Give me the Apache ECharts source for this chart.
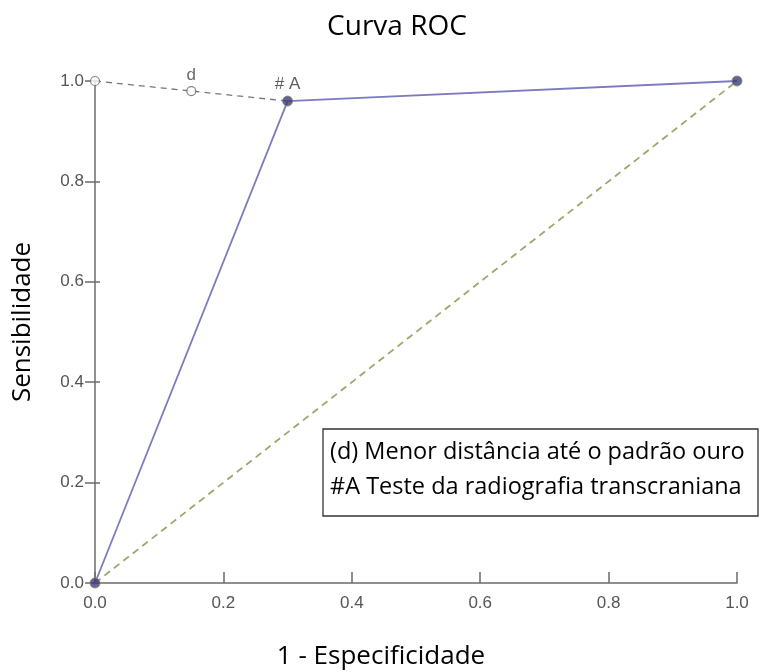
<!DOCTYPE html>
<html><head><meta charset="utf-8">
<script src="https://cdn.jsdelivr.net/npm/echarts@6/dist/echarts.min.js"></script>
<style>html,body{margin:0;padding:0;background:#fff}#c{width:783px;height:672px}</style>
</head><body><div id="c"></div>
<script>
var titleText = 'Curva ROC';
var xName = '1 - Especificidade';
var yName = 'Sensibilidade';
var rocX = [0, 0.3, 1.0];
var rocY = [0, 0.96, 1.0];
var diagX = [0, 1.0];
var diagY = [0, 1.0];
var distX = [0, 0.15, 0.3];
var distY = [1.0, 0.98, 0.96];
var openPtsX = [0, 0.15];
var openPtsY = [1.0, 0.98];
var openLabels = ['', 'd'];
var filledX = [0, 0.3, 1.0];
var filledY = [0, 0.96, 1.0];
var filledLabels = ['', '# A', ''];
var legendLines = ['(d) Menor distância até o padrão ouro', '#A Teste da radiografia transcraniana'];

function pairs(xs, ys){ return xs.map(function(x,i){return [x, ys[i]];}); }

var chart = echarts.init(document.getElementById('c'));
var axisCol = '#6b6b6b';
var lblCol = '#555';
var lblFont = '"Liberation Sans", Arial, sans-serif';
var txtFont = '"Open Sans", sans-serif';
function fmt(v){ return v.toFixed(1); }
chart.setOption({
  animation: false,
  grid: { left: 95, right: 46, top: 81, bottom: 89 },
  xAxis: [{
    type: 'value', min: 0, max: 1, interval: 0.2,
    axisLine: { show: true, lineStyle: { color: axisCol, width: 1.5 } },
    axisTick: { show: true, inside: true, length: 11, lineStyle: { color: axisCol, width: 1.5 } },
    axisLabel: { color: lblCol, fontSize: 17, fontFamily: lblFont, margin: 12, formatter: fmt },
    splitLine: { show: false }
  }],
  yAxis: [{
    type: 'value', min: 0, max: 1, interval: 0.2,
    axisLine: { show: true, lineStyle: { color: axisCol, width: 1.5 } },
    axisTick: { show: true, inside: false, length: 10, lineStyle: { color: axisCol, width: 1.5 } },
    axisLabel: { color: lblCol, fontSize: 17, fontFamily: lblFont, margin: 11, formatter: fmt },
    splitLine: { show: false }
  }, {
    type: 'value', min: 0, max: 1, interval: 0.2, position: 'left',
    axisLine: { show: false },
    axisTick: { show: true, inside: true, length: 5, lineStyle: { color: axisCol, width: 1.5 } },
    axisLabel: { show: false },
    splitLine: { show: false }
  }],
  series: [
    { type: 'line', data: pairs(diagX, diagY), symbol: 'none', z: 2,
      lineStyle: { color: '#9aa86a', width: 1.8, type: [7, 5] } },
    { type: 'line', data: pairs(distX, distY), symbol: 'none', z: 2,
      lineStyle: { color: '#777', width: 1.3, type: [6, 5] } },
    { type: 'line', data: pairs(rocX, rocY), symbol: 'none', z: 3,
      lineStyle: { color: '#7b7bc0', width: 1.8 } },
    { type: 'scatter', data: pairs(openPtsX, openPtsY), symbol: 'circle', symbolSize: 9, z: 4,
      itemStyle: { color: '#fff', borderColor: '#666', borderWidth: 1.2 },
      label: { show: true, position: 'top', distance: 2, color: '#444', fontSize: 17, fontFamily: lblFont,
        formatter: function(p){ return openLabels[p.dataIndex]; } } },
    { type: 'scatter', data: pairs(filledX, filledY), symbol: 'circle', symbolSize: 10, z: 5,
      itemStyle: { color: '#3b3b7e', borderColor: '#8a8a5a', borderWidth: 1 },
      label: { show: true, position: 'top', distance: 3, color: '#333', fontSize: 17, fontFamily: lblFont,
        formatter: function(p){ return filledLabels[p.dataIndex]; } } }
  ],
  graphic: [
    { type: 'text', x: 397, y: 27,
      style: { text: titleText, fill: '#000', fontSize: 28, fontFamily: txtFont, align: 'center', verticalAlign: 'middle' } },
    { type: 'text', x: 381, y: 657,
      style: { text: xName, fill: '#000', fontSize: 26, fontFamily: txtFont, align: 'center', verticalAlign: 'middle' } },
    { type: 'text', x: 23, y: 322, rotation: Math.PI / 2,
      style: { text: yName, fill: '#000', fontSize: 26, fontFamily: txtFont, align: 'center', verticalAlign: 'middle' } },
    { type: 'group', x: 323, y: 429,
      children: [
        { type: 'rect', shape: { x: 0, y: 0, width: 435, height: 87 },
          style: { fill: '#fff', stroke: '#333', lineWidth: 1.3 } },
        { type: 'text', x: 7, y: 6,
          style: { text: legendLines.join('\n'), fill: '#000', fontSize: 23.5, lineHeight: 35,
            fontFamily: txtFont } }
      ] }
  ]
});
</script>
</body></html>
